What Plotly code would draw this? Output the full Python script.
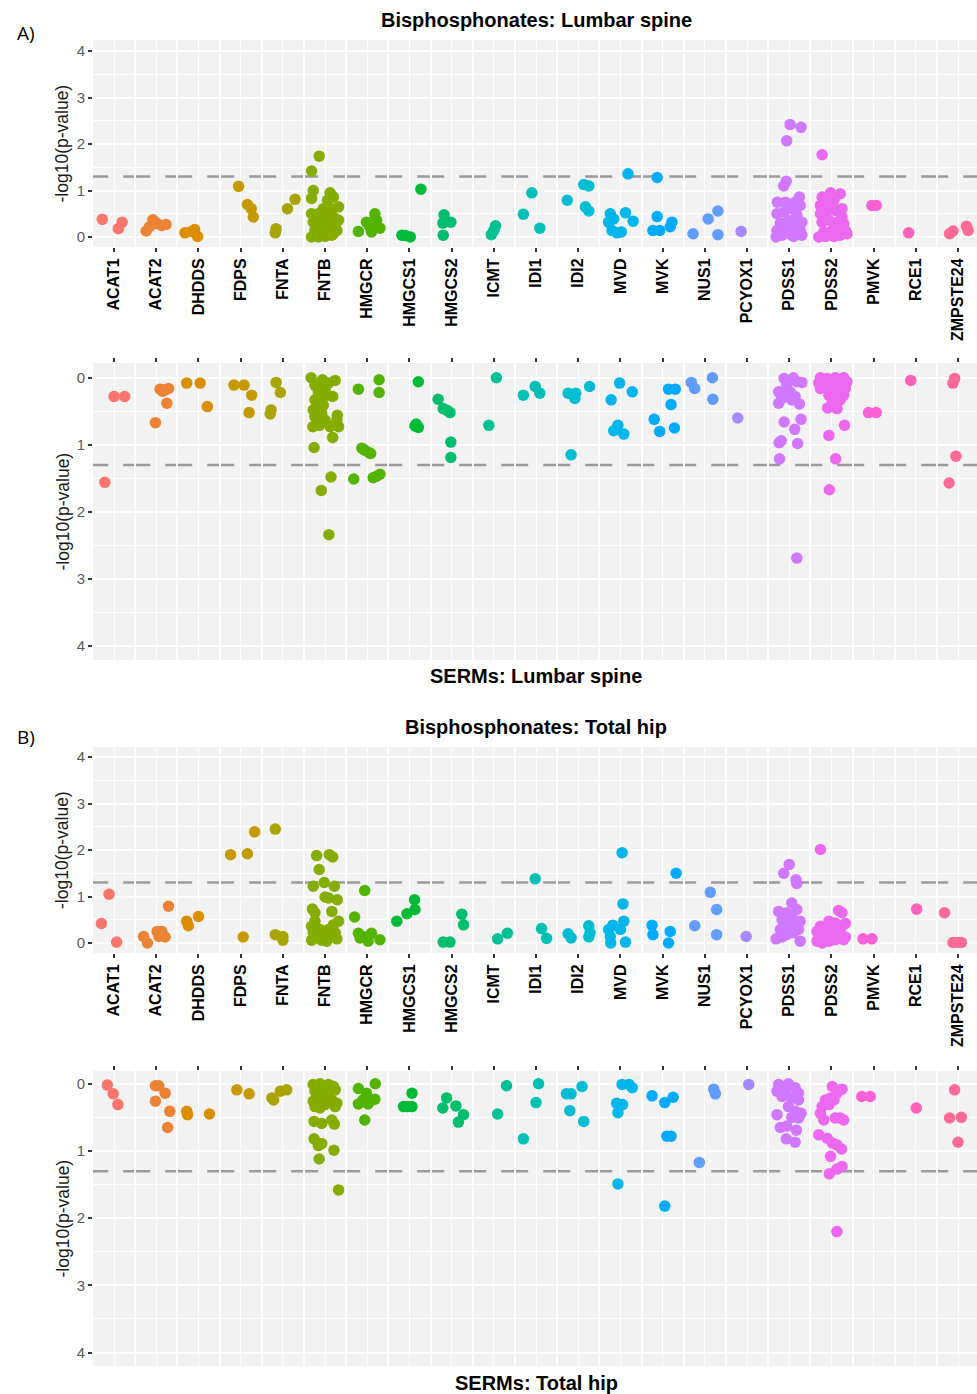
import math
import plotly.graph_objects as go

# Mevalonate-pathway genes, in plotting order
GENES = ["ACAT1", "ACAT2", "DHDDS", "FDPS", "FNTA", "FNTB", "HMGCR", "HMGCS1",
         "HMGCS2", "ICMT", "IDI1", "IDI2", "MVD", "MVK", "NUS1", "PCYOX1",
         "PDSS1", "PDSS2", "PMVK", "RCE1", "ZMPSTE24"]

# Per-gene SNP results: (horizontal jitter, -log10(p-value))
LUMBAR_BISPHOSPHONATES = {
    "ACAT1": [(-0.28, 0.38), (0.10, 0.18), (0.19, 0.32)],
    "ACAT2": [(-0.24, 0.13), (-0.16, 0.22), (-0.08, 0.37), (0.02, 0.29), (0.13, 0.25), (0.23, 0.27)],
    "DHDDS": [(-0.32, 0.09), (-0.16, 0.12), (-0.09, 0.16), (-0.02, 0.01)],
    "FDPS": [(-0.05, 1.09), (0.16, 0.70), (0.25, 0.61), (0.30, 0.43)],
    "FNTA": [(-0.18, 0.09), (-0.16, 0.18), (0.11, 0.61), (0.29, 0.81)],
    "FNTB": [(-0.14, 1.74), (-0.32, 1.42), (-0.28, 1.00), (-0.32, 0.83), (0.12, 0.95), (0.06, 0.79),
             (0.32, 0.65), (-0.32, 0.50), (-0.16, 0.50), (-0.04, 0.61), (0.08, 0.50), (0.20, 0.43),
             (0.32, 0.36), (-0.28, 0.32), (-0.12, 0.36), (0.00, 0.29), (0.12, 0.32), (0.24, 0.22),
             (-0.24, 0.14), (-0.08, 0.18), (0.08, 0.14), (0.20, 0.07), (-0.32, 0.00), (-0.16, 0.00),
             (0.00, 0.01), (0.16, 0.04), (-0.20, 0.07), (0.28, 0.14), (-0.04, 0.43), (0.16, 0.61),
             (0.20, 0.86)],
    "HMGCR": [(-0.21, 0.12), (-0.02, 0.32), (0.10, 0.11), (0.18, 0.50), (0.22, 0.36), (0.30, 0.19),
              (0.06, 0.22), (0.13, 0.32)],
    "HMGCS1": [(-0.18, 0.04), (-0.10, 0.03), (0.02, 0.00), (0.27, 1.03)],
    "HMGCS2": [(-0.18, 0.48), (-0.21, 0.30), (-0.02, 0.32), (-0.20, 0.04), (-0.15, 0.34)],
    "ICMT": [(-0.06, 0.05), (0.04, 0.24), (0.00, 0.14)],
    "IDI1": [(-0.30, 0.49), (-0.10, 0.95), (0.09, 0.19)],
    "IDI2": [(-0.26, 0.79), (0.13, 1.13), (0.25, 1.10), (0.17, 0.65), (0.25, 0.56)],
    "MVD": [(0.18, 1.36), (-0.24, 0.50), (-0.28, 0.32), (0.12, 0.52), (0.30, 0.34), (-0.20, 0.14),
            (-0.08, 0.09), (0.02, 0.11), (-0.16, 0.39)],
    "MVK": [(-0.13, 1.28), (-0.13, 0.44), (-0.23, 0.14), (-0.07, 0.14), (0.22, 0.32), (0.18, 0.22)],
    "NUS1": [(-0.28, 0.07), (0.08, 0.39), (0.31, 0.56), (0.31, 0.05)],
    "PCYOX1": [(-0.14, 0.12)],
    "PDSS1": [(0.02, 2.42), (0.28, 2.36), (-0.06, 2.07), (-0.07, 1.20), (-0.13, 1.10), (-0.28, 0.75),
              (-0.09, 0.75), (0.24, 0.86), (0.14, 0.75), (0.26, 0.68), (-0.29, 0.50), (-0.12, 0.54),
              (0.06, 0.61), (0.18, 0.47), (-0.21, 0.30), (-0.02, 0.36), (0.14, 0.32), (0.30, 0.32),
              (-0.29, 0.14), (-0.09, 0.14), (0.10, 0.18), (0.26, 0.14), (-0.31, 0.00), (-0.17, 0.04),
              (0.10, 0.01), (0.30, 0.04), (0.02, 0.07), (0.18, 0.07)],
    "PDSS2": [(-0.22, 1.77), (-0.02, 0.95), (-0.22, 0.86), (0.21, 0.93), (0.06, 0.79), (-0.06, 0.72),
              (0.25, 0.61), (-0.26, 0.68), (-0.10, 0.57), (0.09, 0.57), (-0.26, 0.50), (-0.06, 0.36),
              (0.13, 0.32), (0.29, 0.29), (-0.22, 0.32), (0.33, 0.14), (0.17, 0.18), (0.02, 0.14),
              (-0.18, 0.11), (-0.30, 0.00), (-0.14, 0.01), (0.06, 0.01), (0.21, 0.04), (0.37, 0.07),
              (-0.06, 0.07), (0.13, 0.07), (0.25, 0.43)],
    "PMVK": [(-0.04, 0.68), (0.06, 0.68)],
    "RCE1": [(-0.17, 0.09)],
    "ZMPSTE24": [(-0.20, 0.07), (-0.12, 0.13), (0.20, 0.23), (0.24, 0.14)],
}

LUMBAR_SERMS = {
    "ACAT1": [(0.00, 0.28), (0.25, 0.28), (-0.22, 1.56)],
    "ACAT2": [(-0.02, 0.67), (0.09, 0.17), (0.21, 0.18), (0.29, 0.16), (0.25, 0.38), (0.15, 0.20)],
    "DHDDS": [(-0.28, 0.08), (0.04, 0.08), (0.21, 0.43)],
    "FDPS": [(-0.16, 0.11), (0.08, 0.11), (0.26, 0.26), (0.20, 0.52)],
    "FNTA": [(-0.16, 0.07), (-0.06, 0.22), (-0.28, 0.48), (-0.30, 0.54)],
    "FNTB": [(-0.33, 0.00), (-0.06, 0.03), (0.24, 0.04), (-0.24, 0.11), (-0.12, 0.13), (0.08, 0.08),
             (-0.16, 0.21), (0.00, 0.18), (0.18, 0.28), (-0.24, 0.33), (-0.08, 0.31), (-0.20, 0.43),
             (-0.04, 0.41), (-0.24, 0.58), (-0.08, 0.53), (0.29, 0.56), (-0.29, 0.73), (-0.13, 0.71),
             (0.00, 0.63), (0.12, 0.73), (0.32, 0.73), (0.28, 0.63), (0.18, 0.89), (-0.26, 1.04),
             (0.14, 1.48), (-0.09, 1.68), (0.09, 2.34), (-0.28, 0.48), (0.04, 0.26)],
    "HMGCR": [(-0.21, 0.17), (-0.32, 1.51), (-0.13, 1.05), (-0.06, 1.08), (0.05, 1.12), (0.08, 1.13),
              (0.14, 1.49), (0.22, 1.47), (0.30, 1.44), (0.28, 0.03), (0.28, 0.22)],
    "HMGCS1": [(0.21, 0.06), (0.16, 0.69), (0.21, 0.74), (0.13, 0.72)],
    "HMGCS2": [(-0.32, 0.32), (-0.20, 0.46), (-0.04, 0.52), (-0.02, 0.96), (-0.02, 1.19), (-0.10, 0.49)],
    "ICMT": [(0.06, 0.00), (-0.12, 0.71)],
    "IDI1": [(-0.30, 0.26), (-0.02, 0.13), (0.09, 0.23)],
    "IDI2": [(-0.24, 0.23), (-0.06, 0.23), (-0.08, 0.31), (0.27, 0.13), (-0.17, 1.15)],
    "MVD": [(-0.02, 0.08), (0.28, 0.21), (-0.22, 0.33), (-0.16, 0.79), (-0.06, 0.71), (0.08, 0.84)],
    "MVK": [(0.14, 0.17), (0.30, 0.17), (0.20, 0.40), (-0.20, 0.62), (-0.07, 0.80), (0.28, 0.75)],
    "NUS1": [(-0.32, 0.07), (-0.24, 0.16), (0.18, 0.00), (0.19, 0.32)],
    "PCYOX1": [(-0.22, 0.60)],
    "PDSS1": [(-0.12, 0.01), (0.10, 0.00), (0.30, 0.07), (-0.06, 0.11), (0.18, 0.06), (-0.25, 0.21),
              (-0.13, 0.23), (0.02, 0.21), (0.14, 0.28), (-0.17, 0.31), (-0.25, 0.38), (0.24, 0.39),
              (0.06, 0.33), (-0.12, 0.66), (0.28, 0.62), (0.13, 0.77), (-0.24, 0.97), (-0.19, 0.94),
              (0.20, 0.98), (-0.23, 1.21), (0.18, 2.69)],
    "PDSS2": [(-0.26, 0.00), (-0.10, 0.01), (0.09, 0.00), (0.29, 0.00), (-0.30, 0.08), (-0.14, 0.11),
              (0.02, 0.08), (0.21, 0.08), (0.37, 0.06), (-0.26, 0.16), (-0.02, 0.18), (0.17, 0.18),
              (0.33, 0.16), (-0.06, 0.26), (0.09, 0.28), (0.29, 0.26), (0.02, 0.36), (0.21, 0.33),
              (-0.09, 0.45), (0.13, 0.46), (0.31, 0.71), (-0.06, 0.86), (0.10, 1.21), (-0.05, 1.67)],
    "PMVK": [(-0.12, 0.52), (0.06, 0.52)],
    "RCE1": [(-0.12, 0.04)],
    "ZMPSTE24": [(-0.08, 0.01), (-0.12, 0.08), (-0.05, 1.17), (-0.21, 1.57)],
}

HIP_BISPHOSPHONATES = {
    "ACAT1": [(-0.30, 0.42), (-0.12, 1.05), (0.06, 0.02)],
    "ACAT2": [(-0.30, 0.14), (-0.21, 0.00), (0.02, 0.25), (0.13, 0.25), (0.21, 0.13), (0.29, 0.79),
              (0.06, 0.14)],
    "DHDDS": [(-0.28, 0.47), (-0.24, 0.37), (0.00, 0.57)],
    "FDPS": [(-0.24, 1.90), (0.16, 1.92), (0.33, 2.39), (0.06, 0.13)],
    "FNTA": [(-0.18, 2.45), (-0.18, 0.18), (0.00, 0.14), (0.00, 0.06)],
    "FNTB": [(-0.20, 1.88), (0.10, 1.90), (0.18, 1.85), (-0.14, 1.58), (-0.28, 1.22), (-0.02, 1.30),
             (0.22, 1.22), (0.00, 0.99), (0.29, 0.93), (0.08, 0.97), (-0.30, 0.73), (0.16, 0.68),
             (-0.24, 0.47), (0.32, 0.47), (0.20, 0.39), (-0.32, 0.36), (-0.12, 0.29), (0.08, 0.29),
             (-0.28, 0.22), (-0.04, 0.18), (0.24, 0.22), (-0.20, 0.11), (0.12, 0.13), (-0.32, 0.06),
             (-0.08, 0.06), (0.28, 0.09), (0.04, 0.04), (-0.24, 0.65)],
    "HMGCR": [(-0.06, 1.13), (-0.30, 0.56), (-0.21, 0.21), (-0.17, 0.11), (0.02, 0.04), (0.10, 0.21),
              (0.30, 0.07), (-0.10, 0.14)],
    "HMGCS1": [(-0.30, 0.47), (-0.06, 0.63), (0.13, 0.72), (0.12, 0.93)],
    "HMGCS2": [(-0.20, 0.02), (-0.04, 0.02), (0.24, 0.62), (0.28, 0.39)],
    "ICMT": [(0.09, 0.09), (0.32, 0.21)],
    "IDI1": [(-0.02, 1.38), (0.13, 0.31), (0.25, 0.10)],
    "IDI2": [(-0.24, 0.20), (-0.17, 0.11), (0.25, 0.37), (0.25, 0.13), (0.28, 0.22)],
    "MVD": [(0.04, 1.94), (0.06, 0.84), (0.08, 0.47), (-0.28, 0.29), (-0.24, 0.14), (-0.23, 0.00),
            (0.00, 0.29), (0.12, 0.02), (-0.18, 0.38)],
    "MVK": [(0.32, 1.50), (-0.25, 0.38), (-0.23, 0.18), (0.18, 0.25), (0.14, 0.00)],
    "NUS1": [(0.13, 1.09), (0.28, 0.72), (-0.24, 0.37), (0.28, 0.18)],
    "PCYOX1": [(-0.02, 0.14)],
    "PDSS1": [(0.00, 1.69), (-0.13, 1.50), (0.16, 1.36), (0.18, 1.28), (0.06, 0.86), (-0.25, 0.68),
              (-0.06, 0.65), (0.18, 0.72), (-0.17, 0.50), (0.06, 0.54), (0.26, 0.47), (-0.09, 0.36),
              (0.14, 0.36), (-0.21, 0.29), (0.02, 0.25), (0.22, 0.29), (-0.06, 0.18), (-0.31, 0.09),
              (-0.17, 0.13), (0.26, 0.04), (0.10, 0.22)],
    "PDSS2": [(-0.26, 2.01), (0.17, 0.70), (0.25, 0.65), (0.33, 0.42), (-0.26, 0.36), (-0.06, 0.47),
              (0.09, 0.43), (0.25, 0.36), (-0.34, 0.25), (-0.18, 0.29), (-0.02, 0.32), (0.17, 0.29),
              (-0.30, 0.14), (-0.14, 0.18), (0.02, 0.18), (0.21, 0.18), (0.33, 0.13), (-0.34, 0.04),
              (-0.22, 0.00), (-0.06, 0.04), (0.09, 0.07), (0.29, 0.07), (-0.10, 0.11), (0.13, 0.14)],
    "PMVK": [(-0.25, 0.09), (-0.04, 0.09)],
    "RCE1": [(0.02, 0.73)],
    "ZMPSTE24": [(-0.32, 0.65), (-0.12, 0.01), (0.00, 0.01), (0.08, 0.01)],
}

HIP_SERMS = {
    "ACAT1": [(-0.16, 0.02), (-0.02, 0.15), (0.09, 0.31)],
    "ACAT2": [(-0.02, 0.03), (0.06, 0.03), (0.21, 0.14), (-0.02, 0.26), (0.32, 0.41), (0.27, 0.65)],
    "DHDDS": [(-0.28, 0.41), (-0.26, 0.46), (0.26, 0.45)],
    "FDPS": [(-0.09, 0.09), (0.20, 0.15)],
    "FNTA": [(-0.26, 0.21), (-0.22, 0.24), (-0.06, 0.11), (0.09, 0.09)],
    "FNTB": [(-0.28, 0.01), (-0.12, 0.00), (0.08, 0.01), (0.20, 0.04), (-0.24, 0.11), (-0.04, 0.09),
             (0.24, 0.09), (-0.20, 0.19), (0.04, 0.16), (-0.28, 0.26), (-0.08, 0.26), (0.16, 0.24),
             (0.28, 0.29), (-0.24, 0.34), (0.00, 0.31), (0.24, 0.34), (-0.12, 0.36), (-0.26, 0.56),
             (-0.08, 0.59), (0.16, 0.54), (0.22, 0.60), (-0.26, 0.82), (-0.08, 0.89), (-0.16, 0.92),
             (0.21, 0.99), (-0.14, 1.12), (0.32, 1.58)],
    "HMGCR": [(-0.21, 0.07), (0.19, 0.00), (-0.02, 0.14), (-0.10, 0.24), (0.06, 0.26), (0.18, 0.23),
              (-0.21, 0.30), (-0.06, 0.54), (0.02, 0.30)],
    "HMGCS1": [(0.06, 0.14), (-0.14, 0.34), (0.06, 0.34), (-0.04, 0.34)],
    "HMGCS2": [(-0.12, 0.21), (-0.21, 0.36), (0.10, 0.33), (0.28, 0.46), (0.16, 0.57)],
    "ICMT": [(0.30, 0.03), (0.09, 0.45)],
    "IDI1": [(0.06, 0.00), (0.00, 0.28), (-0.30, 0.82)],
    "IDI2": [(-0.28, 0.15), (-0.17, 0.15), (0.09, 0.04), (-0.20, 0.40), (0.13, 0.56)],
    "MVD": [(0.04, 0.01), (0.20, 0.01), (0.28, 0.06), (-0.09, 0.29), (0.05, 0.31), (-0.06, 0.43),
            (-0.06, 1.49)],
    "MVK": [(-0.25, 0.18), (0.25, 0.20), (0.05, 0.28), (0.10, 0.78), (0.20, 0.78), (0.05, 1.82)],
    "NUS1": [(0.21, 0.08), (0.25, 0.15), (-0.13, 1.17)],
    "PCYOX1": [(0.04, 0.01)],
    "PDSS1": [(-0.25, 0.01), (-0.02, 0.00), (0.14, 0.06), (-0.29, 0.11), (-0.09, 0.09), (0.22, 0.14),
              (-0.17, 0.19), (0.06, 0.21), (0.22, 0.24), (-0.02, 0.34), (0.14, 0.41), (0.28, 0.44),
              (-0.29, 0.46), (0.06, 0.50), (0.22, 0.51), (-0.21, 0.65), (-0.06, 0.63), (0.17, 0.69),
              (-0.07, 0.82), (0.14, 0.87)],
    "PDSS2": [(0.02, 0.04), (0.25, 0.08), (0.13, 0.14), (-0.02, 0.21), (-0.14, 0.24), (0.06, 0.24),
              (-0.22, 0.34), (-0.06, 0.31), (-0.26, 0.44), (-0.18, 0.54), (0.09, 0.51), (0.29, 0.54),
              (0.21, 0.51), (-0.30, 0.76), (-0.10, 0.81), (0.02, 0.88), (0.13, 0.91), (0.24, 0.97),
              (-0.02, 1.08), (0.25, 1.23), (0.13, 1.27), (-0.05, 1.34), (0.13, 2.20)],
    "PMVK": [(-0.28, 0.19), (-0.08, 0.19)],
    "RCE1": [(0.01, 0.36)],
    "ZMPSTE24": [(-0.08, 0.09), (-0.20, 0.51), (0.08, 0.50), (0.00, 0.87)],
}

SIGNIFICANCE = -math.log10(0.05)


def hue_colour(h, c=100.0, l=65.0):
    """ggplot2-style HCL (polar CIELUV) colour as a hex string."""
    hr = math.radians(h)
    u, v = c * math.cos(hr), c * math.sin(hr)
    xn, yn, zn = 95.047, 100.0, 108.883
    y = yn * ((l + 16) / 116) ** 3
    den = xn + 15 * yn + 3 * zn
    un, vn = 4 * xn / den, 9 * yn / den
    up, vp = u / (13 * l) + un, v / (13 * l) + vn
    x = y * 9 * up / (4 * vp)
    z = y * (12 - 3 * up - 20 * vp) / (4 * vp)
    x, y, z = x / 100, y / 100, z / 100
    rgb = [3.2404542 * x - 1.5371385 * y - 0.4985314 * z,
           -0.9692660 * x + 1.8760108 * y + 0.0415560 * z,
           0.0556434 * x - 0.2040259 * y + 1.0572252 * z]
    out = []
    for ch in rgb:
        ch = 12.92 * ch if ch <= 0.0031308 else 1.055 * ch ** (1 / 2.4) - 0.055
        out.append(int(round(min(max(ch, 0.0), 1.0) * 255)))
    return "#{:02X}{:02X}{:02X}".format(*out)


n = len(GENES)
COLOURS = {g: hue_colour(15 + i * 360.0 / n) for i, g in enumerate(GENES)}

W, H = 977, 1394
FONT = "Liberation Sans"
BG = "#F2F2F2"
X_LEFT = 93 / W
X_RANGE = [0.5, 21.45]

# (data, y-domain in pixels from the top, y-range, x-axis on top?)
PANELS = [
    (LUMBAR_BISPHOSPHONATES, (40, 247), [-0.215, 4.24], False),
    (LUMBAR_SERMS, (363, 660), [4.21, -0.22], True),
    (HIP_BISPHOSPHONATES, (747, 953), [-0.215, 4.215], False),
    (HIP_SERMS, (1071, 1366), [4.20, -0.19], True),
]

fig = go.Figure()
layout = {}
shapes = []
annotations = []

for k, (data, (top_px, bot_px), yrange, flipped) in enumerate(PANELS, start=1):
    xs, ys, cs = [], [], []
    for i, g in enumerate(GENES, start=1):
        for dx, val in data[g]:
            xs.append(i + dx)
            ys.append(val)
            cs.append(COLOURS[g])
    suffix = "" if k == 1 else str(k)
    fig.add_trace(go.Scatter(
        x=xs, y=ys, mode="markers", xaxis="x" + suffix, yaxis="y" + suffix,
        marker=dict(size=11.5, color=cs, line=dict(width=0)),
        showlegend=False, hoverinfo="skip", cliponaxis=False,
    ))

    layout["xaxis" + suffix] = dict(
        domain=[X_LEFT, 1.0], range=X_RANGE, anchor="y" + suffix,
        side="top" if flipped else "bottom",
        tickmode="array", tickvals=list(range(1, n + 1)), ticktext=GENES,
        showticklabels=not flipped, tickangle=-90,
        tickfont=dict(family=FONT, size=16, color="#000000", weight="bold"),
        ticks="outside", ticklen=4, tickwidth=1.5, tickcolor="#333333",
        showgrid=True, gridcolor="white", gridwidth=1,
        minor=dict(tickmode="array", tickvals=[i + 0.5 for i in range(0, n + 1)],
                   showgrid=True, gridcolor="white", gridwidth=2, ticks=""),
        zeroline=False, showline=False, fixedrange=True, automargin=False,
    )
    layout["yaxis" + suffix] = dict(
        domain=[1 - bot_px / H, 1 - top_px / H], range=yrange, anchor="x" + suffix,
        tickmode="array", tickvals=[0, 1, 2, 3, 4],
        tickfont=dict(family=FONT, size=15, color="#5A5A5A"),
        ticks="outside", ticklen=4, tickwidth=1.5, tickcolor="#333333",
        showgrid=True, gridcolor="white", gridwidth=2,
        minor=dict(tickmode="array", tickvals=[0.5, 1.5, 2.5, 3.5],
                   showgrid=True, gridcolor="white", gridwidth=1, ticks=""),
        zeroline=False, showline=False, fixedrange=True, automargin=False,
    )

    # significance threshold p = 0.05
    shapes.append(dict(
        type="line", xref="x" + suffix, yref="y" + suffix,
        x0=0.22, x1=22, y0=SIGNIFICANCE, y1=SIGNIFICANCE,
        line=dict(color="#9A9A9A", width=2.5, dash="27px,15px"), layer="below",
    ))

    # y-axis title
    annotations.append(dict(
        text="-log10(p-value)", xref="paper", yref="paper",
        x=62 / W, y=1 - (top_px + bot_px) / 2 / H, textangle=-90,
        showarrow=False, xanchor="center", yanchor="middle",
        font=dict(family=FONT, size=17.5, color="#1A1A1A"),
    ))

titles = [
    ("Bisphosphonates: Lumbar spine", 20),
    ("SERMs: Lumbar spine", 676),
    ("Bisphosphonates: Total hip", 727),
    ("SERMs: Total hip", 1383),
]
for text, ypx in titles:
    annotations.append(dict(
        text=text, xref="paper", yref="paper", x=536 / W, y=1 - ypx / H,
        showarrow=False, xanchor="center", yanchor="middle",
        font=dict(family=FONT, size=20, color="#000000", weight="bold"),
    ))

for text, ypx in [("A)", 33), ("B)", 737)]:
    annotations.append(dict(
        text=text, xref="paper", yref="paper", x=26 / W, y=1 - ypx / H,
        showarrow=False, xanchor="center", yanchor="middle",
        font=dict(family="Open Sans", size=19, color="#000000"),
    ))

fig.update_layout(
    width=W, height=H,
    margin=dict(l=0, r=0, t=0, b=0),
    paper_bgcolor="white", plot_bgcolor=BG,
    shapes=shapes, annotations=annotations,
    showlegend=False,
    **layout,
)

fig.write_html("out.html", include_plotlyjs=True, full_html=True,
               config={"displayModeBar": False, "responsive": False})
